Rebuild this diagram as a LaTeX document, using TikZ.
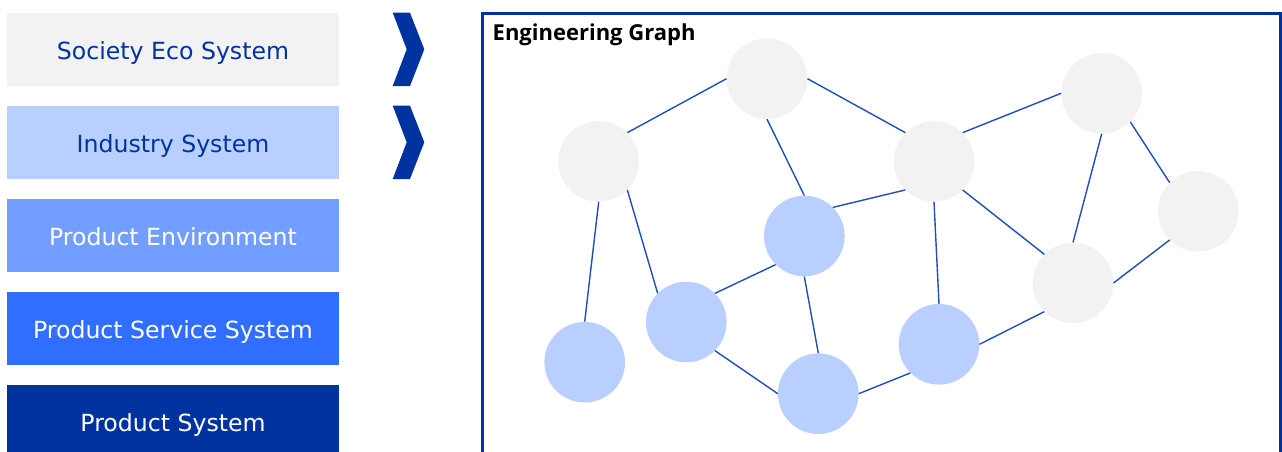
\documentclass[tikz,border=0pt]{standalone}
\usepackage{fontspec}
\setmainfont{DejaVu Sans}
\newfontfamily\titlefont{Open Sans}
\definecolor{dblue}{HTML}{0033A0}
\definecolor{cgrey}{HTML}{F2F2F2}
\definecolor{clight}{HTML}{B8CFFF}
\definecolor{cmid}{HTML}{729FFF}
\definecolor{cbright}{HTML}{306EFF}
\definecolor{edgec}{HTML}{1F4FB5}
\tikzset{
  layerbox/.style={rectangle, minimum width=332pt, minimum height=73pt, inner sep=0pt,
    text height=24pt, text depth=4.4pt, font=\fontsize{23.6}{28}\selectfont},
  chev/.style={fill=dblue, draw=none},
  gnode/.style={circle, fill=cgrey, minimum size=80.6pt, inner sep=0pt},
  bnode/.style={circle, fill=clight, minimum size=80.6pt, inner sep=0pt},
  link/.style={draw=edgec, line width=1.4pt}
}
\begin{document}
\begin{tikzpicture}[x=1pt,y=-1pt]
\useasboundingbox (0,0) rectangle (1282,452);
\begin{scope}
\clip (0,0) rectangle (1282,452);
% layer boxes
\node[layerbox, fill=cgrey, text=dblue] (l1) at (173,49.5) {Society Eco System};
\node[layerbox, fill=clight, text=dblue] (l2) at (173,142.5) {Industry System};
\node[layerbox, fill=cmid, text=white] (l3) at (173,235.5) {Product Environment};
\node[layerbox, fill=cbright, text=white] (l4) at (173,328.5) {Product Service System};
\node[layerbox, fill=dblue, text=white] (l5) at (173,421.5) {Product System};
% chevrons
\fill[chev] (392.7,12.7) -- (410,12.7) -- (424.3,49.3) -- (410,86) -- (392.7,86) -- (406.7,49.3) -- cycle;
\fill[chev] (392.7,105.7) -- (410,105.7) -- (424.3,142.3) -- (410,179) -- (392.7,179) -- (406.7,142.3) -- cycle;
% frame
\draw[dblue, line width=3pt] (482,470) -- (482,13.3) -- (1280.5,13.3) -- (1280.5,470);
\node[anchor=base west, inner sep=0pt, font=\titlefont\bfseries\fontsize{22}{26}\selectfont] (title) at (492.5,40.7) {Engineering Graph};
% graph nodes
\node[gnode] (g1) at (767,78.7) {};
\node[gnode] (g2) at (598.7,161.3) {};
\node[gnode] (g3) at (934,161.3) {};
\node[gnode] (g4) at (1101.7,93.3) {};
\node[gnode] (g5) at (1198.3,211.3) {};
\node[gnode] (g6) at (1073,283) {};
\node[bnode] (b1) at (804.3,236) {};
\node[bnode] (b2) at (686.3,322) {};
\node[bnode] (b3) at (584.7,362.2) {};
\node[bnode] (b4) at (818.3,393.7) {};
\node[bnode] (b5) at (939,344.3) {};
% links (attached at connection sites)
\draw[link] (g1.west) -- (g2.north east);
\draw[link] (g1.east) -- (g3.north west);
\draw[link] (g1.south) -- (b1.north);
\draw[link] (g2.south) -- (b3.north);
\draw[link] (g2.south east) -- (b2.north west);
\draw[link] (g3.south west) -- (b1.north east);
\draw[link] (g3.south) -- (b5.north);
\draw[link] (g3.south east) -- (g6.north west);
\draw[link] (g3.north east) -- (g4.west);
\draw[link] (g4.south) -- (g6.north);
\draw[link] (g4.south east) -- (g5.north west);
\draw[link] (g5.south west) -- (g6.east);
\draw[link] (b1.south west) -- (b2.north east);
\draw[link] (b1.south) -- (b4.north);
\draw[link] (b2.south east) -- (b4.west);
\draw[link] (b4.east) -- (b5.south west);
\draw[link] (b5.east) -- (g6.south west);
\end{scope}
\end{tikzpicture}
\end{document}
